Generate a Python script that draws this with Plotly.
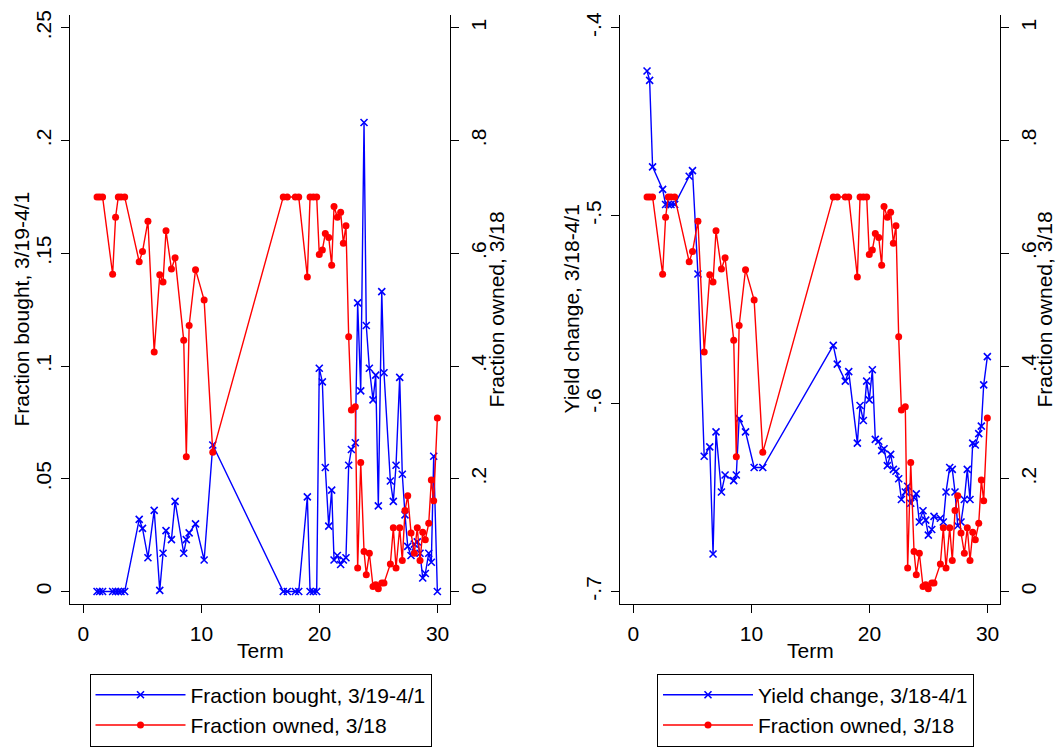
import plotly.graph_objects as go

# ---------------- data ----------------
term = [1.16, 1.38, 1.63, 2.48, 2.73, 2.96, 3.19, 3.5, 4.73, 5.01, 5.47, 6.0, 6.47, 6.75, 7.0,
        7.46, 7.77, 8.5, 8.72, 8.96, 9.5, 10.23, 10.96,
        16.93, 17.27, 17.95, 18.24, 18.97, 19.2, 19.48, 19.76, 19.98, 20.24, 20.49, 20.78,
        21.03, 21.23, 21.51, 21.79, 22.02, 22.24, 22.47, 22.7, 23.03, 23.23, 23.49, 23.77,
        23.96, 24.22, 24.53, 24.76, 24.98, 25.27, 25.46, 26.0, 26.25, 26.48, 26.79, 27.01,
        27.24, 27.47, 27.75, 28.03, 28.28, 28.51, 28.74, 28.96, 29.25, 29.47, 29.67, 29.98]

fraction_bought = [0, 0, 0, 0, 0, 0, 0, 0, 0.032, 0.028, 0.015, 0.036, 0.0005, 0.017, 0.027,
                   0.023, 0.040, 0.017, 0.023, 0.026, 0.030, 0.014, 0.065,
                   0, 0, 0, 0, 0.042, 0, 0, 0, 0.099, 0.093, 0.055, 0.029,
                   0.045, 0.014, 0.016, 0.012, 0.014, 0.015, 0.056, 0.063, 0.066, 0.128, 0.089, 0.208,
                   0.118, 0.099, 0.085, 0.096, 0.038, 0.133, 0.097, 0.049, 0.040, 0.056, 0.095, 0.052,
                   0.034, 0.020, 0.016, 0.021, 0.022, 0.017, 0.006, 0.008, 0.017, 0.013, 0.060, 0]

fraction_owned = [0.70, 0.70, 0.70, 0.563, 0.664, 0.70, 0.70, 0.70, 0.585, 0.603, 0.657, 0.425, 0.562, 0.549, 0.640,
                  0.572, 0.592, 0.446, 0.239, 0.472, 0.571, 0.517, 0.247,
                  0.70, 0.70, 0.70, 0.70, 0.558, 0.70, 0.70, 0.70, 0.598, 0.606, 0.635, 0.628,
                  0.579, 0.683, 0.664, 0.673, 0.618, 0.649, 0.452, 0.322, 0.328, 0.042, 0.229, 0.071,
                  0.030, 0.068, 0.009, 0.012, 0.005, 0.015, 0.015, 0.049, 0.113, 0.042, 0.113, 0.055,
                  0.144, 0.170, 0.104, 0.068, 0.113, 0.055, 0.105, 0.092, 0.121, 0.198, 0.161, 0.308]

yield_change = [-0.423, -0.428, -0.474, -0.486, -0.494, -0.494, -0.494, -0.494, -0.479, -0.476, -0.531, -0.628,
                -0.623, -0.680, -0.615, -0.647, -0.638, -0.641, -0.638, -0.608, -0.615, -0.634, -0.634,
                -0.569, -0.579, -0.588, -0.583, -0.621, -0.601, -0.609, -0.588, -0.598, -0.582, -0.619, -0.620,
                -0.625, -0.624, -0.633, -0.627, -0.635, -0.636, -0.640, -0.651, -0.647, -0.644, -0.653, -0.650,
                -0.648, -0.663, -0.657, -0.662, -0.670, -0.667, -0.660, -0.661, -0.663, -0.647, -0.634, -0.635,
                -0.647, -0.665, -0.663, -0.651, -0.635, -0.651, -0.621, -0.622, -0.616, -0.612, -0.590, -0.575]

x_ticks = [0, 10, 20, 30]
bought_ticks = [0, 0.05, 0.10, 0.15, 0.20, 0.25]
bought_tick_labels = ["0", ".05", ".1", ".15", ".2", ".25"]
owned_ticks = [0, 0.2, 0.4, 0.6, 0.8, 1.0]
owned_tick_labels = ["0", ".2", ".4", ".6", ".8", "1"]
yield_ticks = [-0.7, -0.6, -0.5, -0.4]
yield_tick_labels = ["-.7", "-.6", "-.5", "-.4"]

# ---------------- styling ----------------
W, H = 1057, 747
FONT = "Liberation Sans, Arial, sans-serif"
FS = 21
BLUE = "#0000FF"
RED = "#FF0000"


def px_x(p):
    return p / W


def px_y(p):
    return 1 - p / H


ydom = [px_y(605), px_y(10.7)]

fig = go.Figure()

blue_style = dict(mode="lines+markers", line=dict(color=BLUE, width=1.4),
                  marker=dict(symbol="x-thin", size=7, color=BLUE, line=dict(color=BLUE, width=1.6)))
red_style = dict(mode="lines+markers", line=dict(color=RED, width=1.4),
                 marker=dict(symbol="circle", size=7, color=RED))

fig.add_trace(go.Scatter(x=term, y=fraction_bought, name="Fraction bought, 3/19-4/1",
                         xaxis="x", yaxis="y", legend="legend", **blue_style))
fig.add_trace(go.Scatter(x=term, y=fraction_owned, name="Fraction owned, 3/18",
                         xaxis="x", yaxis="y2", legend="legend", **red_style))
fig.add_trace(go.Scatter(x=term, y=yield_change, name="Yield change, 3/18-4/1",
                         xaxis="x2", yaxis="y3", legend="legend2", **blue_style))
fig.add_trace(go.Scatter(x=term, y=fraction_owned, name="Fraction owned, 3/18",
                         xaxis="x2", yaxis="y4", legend="legend2", **red_style))

axis_common = dict(showgrid=False, zeroline=False, showline=True, linecolor="black", linewidth=1.4,
                   ticks="outside", ticklen=8, tickwidth=1.4, tickcolor="black",
                   tickfont=dict(family=FONT, size=FS, color="black"))

xr = [-1.13, 31.05]
owned_range = [-0.0223, 1.0234]
fig.update_layout(
    width=W, height=H, margin=dict(l=0, r=0, t=0, b=0),
    paper_bgcolor="white", plot_bgcolor="white",
    font=dict(family=FONT, size=FS, color="black"),
    xaxis=dict(domain=[px_x(70), px_x(450)], range=xr, tickvals=x_ticks, anchor="y",
               ticklabelstandoff=2, **axis_common),
    xaxis2=dict(domain=[px_x(620), px_x(1000)], range=xr, tickvals=x_ticks, anchor="y3",
                ticklabelstandoff=2, **axis_common),
    yaxis=dict(domain=ydom, range=[-0.00559, 0.25585], tickvals=bought_ticks, ticktext=bought_tick_labels,
               tickangle=-90, anchor="x", ticklabelstandoff=1, **axis_common),
    yaxis2=dict(domain=ydom, range=owned_range, tickvals=owned_ticks, ticktext=owned_tick_labels,
                tickangle=-90, overlaying="y", side="right", anchor="x", ticklabelstandoff=2, **axis_common),
    yaxis3=dict(domain=ydom, range=[-0.70671, -0.39298], tickvals=yield_ticks, ticktext=yield_tick_labels,
                tickangle=-90, anchor="x2", ticklabelstandoff=1, **axis_common),
    yaxis4=dict(domain=ydom, range=owned_range, tickvals=owned_ticks, ticktext=owned_tick_labels,
                tickangle=-90, overlaying="y3", side="right", anchor="x2", ticklabelstandoff=2, **axis_common),
    legend=dict(x=px_x(260.5), xanchor="center", y=px_y(675), yanchor="top",
                bordercolor="black", borderwidth=1, bgcolor="white",
                font=dict(family=FONT, size=FS, color="black"), itemwidth=90, traceorder="normal"),
    legend2=dict(x=px_x(815.5), xanchor="center", y=px_y(675), yanchor="top",
                 bordercolor="black", borderwidth=1, bgcolor="white",
                 font=dict(family=FONT, size=FS, color="black"), itemwidth=90, traceorder="normal"),
    showlegend=True,
)

titles = [
    ("Fraction bought, 3/19-4/1", 22, 308, -90),
    ("Fraction owned, 3/18", 497, 308, -90),
    ("Yield change, 3/18-4/1", 572, 308, -90),
    ("Fraction owned, 3/18", 1045, 308, -90),
    ("Term", 260, 652, 0),
    ("Term", 810, 652, 0),
]
for text, xp, yp, ang in titles:
    fig.add_annotation(text=text, x=px_x(xp), y=px_y(yp), xref="paper", yref="paper",
                       xanchor="center", yanchor="middle", textangle=ang, showarrow=False,
                       font=dict(family=FONT, size=FS, color="black"))

# remove the browser's default 8px body margin so the figure sits at the page origin
fig.write_html("out.html", config={"displayModeBar": False},
               post_script="document.body.style.margin='0px';")
